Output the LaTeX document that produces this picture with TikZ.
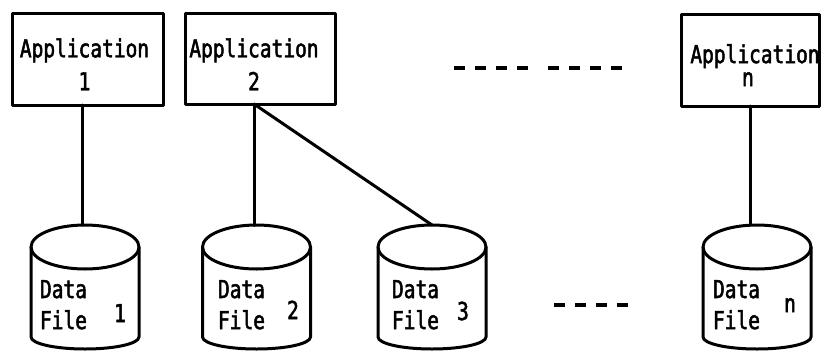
\documentclass[tikz,border=0pt]{standalone}
\usepackage{fontspec}
\newfontfamily\plotfont[FakeStretch=0.79,FakeBold=2]{DejaVu Sans Mono}
\begin{document}
\begin{tikzpicture}[x=1pt,y=-1pt,
  ink/.style={line width=3pt,line join=round,line cap=round},
  appbox/.style={ink,draw,rectangle,inner sep=0pt,outer sep=0pt},
  lbl/.style={inner sep=0pt,outer sep=0pt,
    font=\plotfont\fontsize{24.7pt}{33pt}\selectfont},
  boxtext/.style={lbl,align=center},
  linetext/.style={lbl,anchor=base west},
  numtext/.style={lbl,anchor=base},
  etc/.style={line width=3.6pt,dash pattern=on 11pt off 10pt}]
\useasboundingbox (0,0) rectangle (821,351);

% application boxes
\node[appbox,minimum width=151pt,minimum height=92pt] (a1) at (87.5,59) {};
\node[appbox,minimum width=150pt,minimum height=91pt] (a2) at (260,58.5) {};
\node[appbox,minimum width=138pt,minimum height=92pt] (an) at (750,60) {};
\node[boxtext] (t1) at (84.5,64.3) {Application\\1};
\node[boxtext] (t2) at (254,64.3) {Application\\2};
\node[boxtext] (tn) at (755,65.1) {Application\\[-10pt]\hspace*{-14pt}n};

% data files: a cylinder per file
\newcommand{\datafile}[1]{%
  \draw[ink] (#1,247) ellipse [x radius=54,y radius=22];
  \draw[ink] (#1-54,247) -- (#1-54,337)
    arc [start angle=180,end angle=0,x radius=54,y radius=12]
    -- (#1+54,247);}
\datafile{85}
\datafile{256.5}
\datafile{432}
\datafile{757}

\node[linetext] (d1a) at (40,298) {Data};
\node[linetext] (d1b) at (40,329) {File};
\node[numtext]  (d1n) at (120,322) {1};
\node[linetext] (d2a) at (218,298) {Data};
\node[linetext] (d2b) at (218,329) {File};
\node[numtext]  (d2n) at (293,319) {2};
\node[linetext] (d3a) at (392,298) {Data};
\node[linetext] (d3b) at (392,329) {File};
\node[numtext]  (d3n) at (463,320) {3};
\node[linetext] (dna) at (713,298) {Data};
\node[linetext] (dnb) at (713,329) {File};
\node[numtext]  (dnn) at (790,312) {n};

% where the connectors meet the file tops
\coordinate (f1) at (82,225);
\coordinate (f2) at (254,225.5);
\coordinate (f3) at (432,225);
\coordinate (fn) at (750,225.2);

% connectors
\draw[ink] (a1.south -| f1) -- (f1);
\draw[ink] (a2.south -| f2) -- (f2);
\draw[ink] (a2.south -| f2) -- (f3);
\draw[ink] (an.south -| fn) -- (fn);

% ellipsis dashes
\draw[etc] (454,68) -- (529,68);
\draw[etc] (548,68) -- (624,68);
\draw[etc] (554,305) -- (628,305);
\end{tikzpicture}
\end{document}
